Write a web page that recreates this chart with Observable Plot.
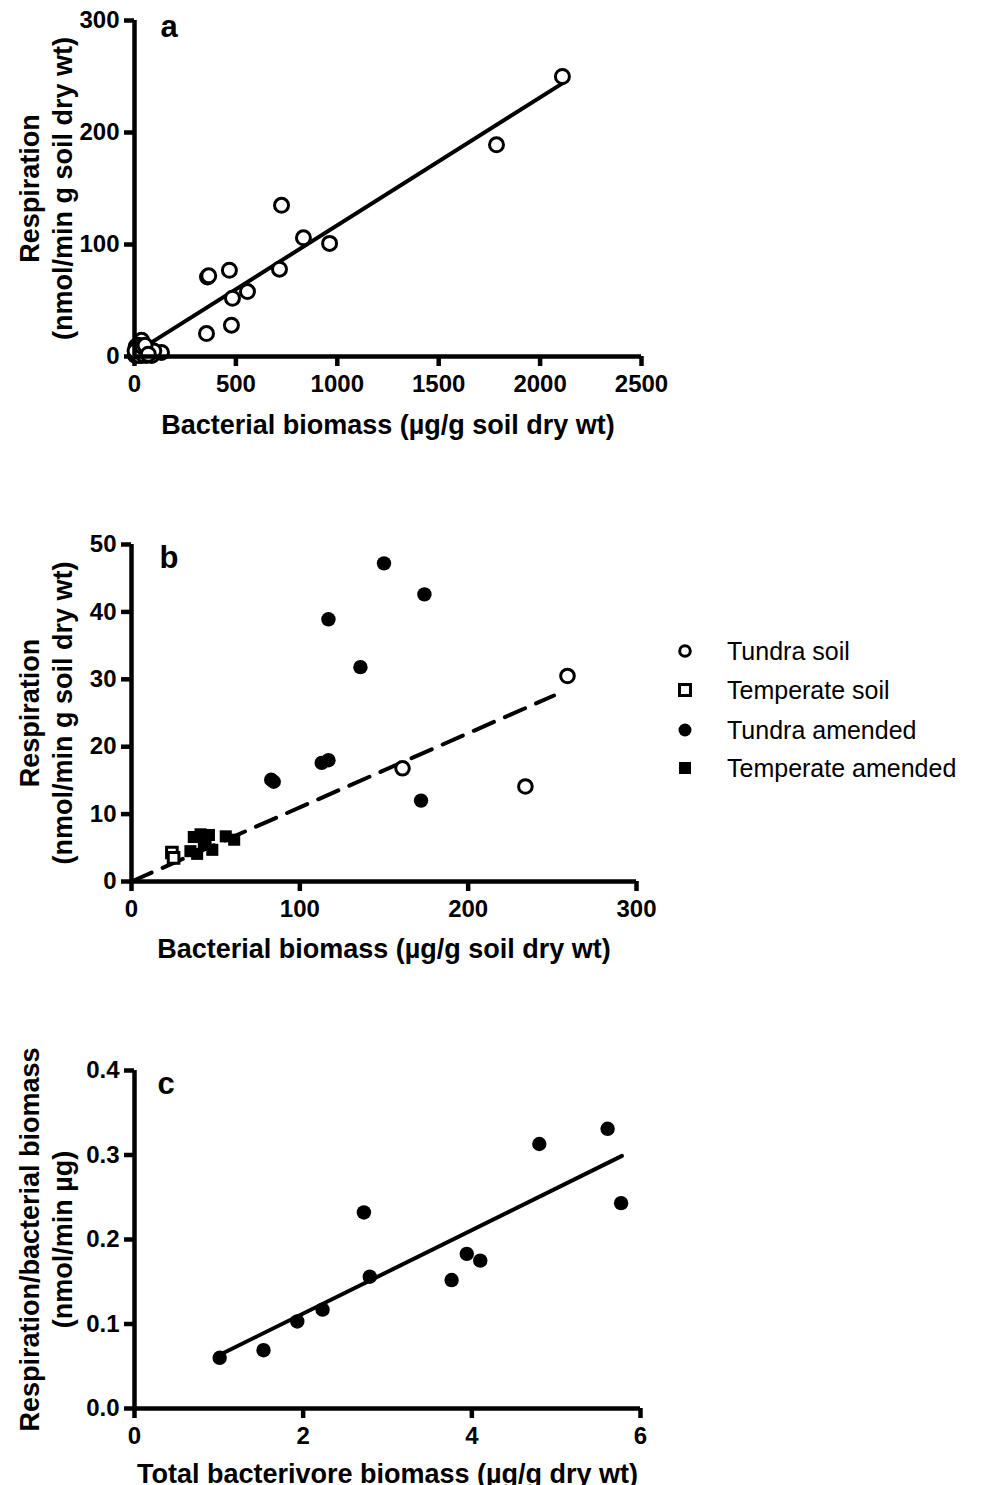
<!DOCTYPE html>
<html><head><meta charset="utf-8">
<script src="https://cdn.jsdelivr.net/npm/d3@7"></script>
<script src="https://cdn.jsdelivr.net/npm/@observablehq/plot@0.6"></script>
<style>
body{margin:0;background:#fff}
#page{position:relative;width:987px;height:1485px;overflow:hidden;background:#fff}
.panel{position:absolute;left:0}
</style></head><body>
<div id="page">
<div id="pa" class="panel" style="top:0"></div>
<div id="pb" class="panel" style="top:500px"></div>
<div id="pc" class="panel" style="top:1030px"></div>
<div id="legend" style="position:absolute;left:660px;top:620px"></div>
</div>
<script>
// ---------- Panel a data ----------
const aBiomass = [2110, 1785, 725, 833, 962, 715, 468, 360, 366, 557, 483, 478, 355, 35, 133,
                  5, 10, 15, 20, 25, 30, 35, 40, 45, 50, 55, 65, 75, 90, 12, 28, 58, 70,
                  8, 18, 22, 33, 42, 48, 62, 80, 85, 95, 3, 38, 52, 68];
const aResp    = [250, 189, 135, 106, 101, 78, 77, 71, 72, 58, 52, 28, 20.5, 14.5, 3.6,
                  1, 4, 2, 6, 3, 8, 1, 5, 9, 2, 6, 4, 2, 3, 7, 5, 1, 6,
                  9, 10, 1, 6, 2, 7, 8, 6, 1, 5, 5, 9, 10, 2];
const aFitX = [0, 2120];
const aFitY = [3, 245];
const aXTicks = [0, 500, 1000, 1500, 2000, 2500];
const aYTicks = [0, 100, 200, 300];

// ---------- Panel b data ----------
const seriesNames = ["Tundra soil", "Temperate soil", "Tundra amended", "Temperate amended"];
const tundraSoilX = [259, 161, 234];
const tundraSoilY = [30.5, 16.8, 14.1];
const temperateSoilX = [24, 25];
const temperateSoilY = [4.3, 3.5];
const tundraAmendedX = [150, 174, 117, 136, 83, 84.5, 113, 117, 172];
const tundraAmendedY = [47.2, 42.6, 38.9, 31.8, 15.1, 14.8, 17.6, 18.0, 12.0];
const temperateAmendedX = [37, 41, 46, 56, 61, 39, 43, 48, 35, 44];
const temperateAmendedY = [6.6, 7.0, 6.9, 6.7, 6.2, 4.1, 5.5, 4.7, 4.5, 6.2];
const bFitX = [0, 251];
const bFitY = [0, 27.6];
const bXTicks = [0, 100, 200, 300];
const bYTicks = [0, 10, 20, 30, 40, 50];

// ---------- Panel c data ----------
const cBiomass = [1.01, 1.53, 1.93, 2.23, 2.72, 2.79, 3.76, 3.94, 4.10, 4.80, 5.61, 5.77];
const cRatio   = [0.060, 0.069, 0.103, 0.117, 0.232, 0.156, 0.152, 0.183, 0.175, 0.313, 0.331, 0.243];
const cFitX = [1.0, 5.78];
const cFitY = [0.063, 0.299];
const cXTicks = [0, 2, 4, 6];
const cYTicks = [0, 0.1, 0.2, 0.3, 0.4];

// ---------- helpers ----------
const FONT = "'Liberation Sans', Arial, Helvetica, sans-serif";
const zip = (xs, ys) => xs.map((x, i) => ({x, y: ys[i]}));

function panel(o) {
  return Plot.plot({
    width: o.width, height: o.height,
    marginLeft: o.ml, marginRight: o.mr, marginTop: o.mt, marginBottom: o.mb,
    style: {fontFamily: FONT, fontSize: "24px", fontWeight: "bold", color: "black", background: "transparent", overflow: "visible"},
    x: {domain: o.xDomain},
    y: {domain: o.yDomain},
    marks: [
      Plot.axisX(o.xTicks, {tickSize: 10, tickPadding: 8, strokeWidth: 4.5, label: null, tickFormat: o.xFormat, fontSize: 24, fontWeight: "bold"}),
      Plot.axisY(o.yTicks, {tickSize: 10, tickPadding: 5, strokeWidth: 4.5, label: null, tickFormat: o.yFormat, fontSize: 24, fontWeight: "bold"}),
      ...o.marks,
      Plot.ruleY([o.yDomain[0]], {strokeWidth: 4.5, stroke: "black"}),
      Plot.ruleX([o.xDomain[0]], {strokeWidth: 4.5, stroke: "black"}),
      Plot.text([o.xLabel], {frameAnchor: "bottom", dy: o.xLabelDy, lineAnchor: "bottom", fontSize: 27, fontWeight: "bold", fill: "black"}),
      Plot.text([o.yLabel], {frameAnchor: "left", rotate: -90, dx: o.yLabelDx, lineAnchor: "top", textAnchor: "middle", lineHeight: 1.22, fontSize: 27, fontWeight: "bold", fill: "black"}),
      Plot.text([o.letter], {frameAnchor: "top-left", dx: o.letterDx, dy: o.letterDy, lineAnchor: "top", textAnchor: "start", fontSize: 31, fontWeight: "bold", fill: "black"})
    ]
  });
}

// ---------- Panel a ----------
document.getElementById("pa").append(panel({
  width: 700, height: 450, ml: 134, mr: 59, mt: 20, mb: 94,
  xDomain: [0, 2500], yDomain: [0, 300], xTicks: aXTicks, yTicks: aYTicks,
  xFormat: "d", yFormat: "d",
  xLabel: "Bacterial biomass (µg/g soil dry wt)", xLabelDy: 77,
  yLabel: "Respiration\n(nmol/min g soil dry wt)", yLabelDx: -119,
  letter: "a", letterDx: 26, letterDy: -6,
  marks: [
    Plot.line(zip(aFitX, aFitY), {x: "x", y: "y", stroke: "black", strokeWidth: 4}),
    Plot.dot(zip(aBiomass, aResp), {x: "x", y: "y", r: 7, stroke: "black", strokeWidth: 3, fill: "white"})
  ]
}));

// ---------- Panel b ----------
document.getElementById("pb").append(panel({
  width: 700, height: 470, ml: 131, mr: 64, mt: 44, mb: 89,
  xDomain: [0, 300], yDomain: [0, 50], xTicks: bXTicks, yTicks: bYTicks,
  xFormat: "d", yFormat: "d",
  xLabel: "Bacterial biomass (µg/g soil dry wt)", xLabelDy: 76,
  yLabel: "Respiration\n(nmol/min g soil dry wt)", yLabelDx: -116,
  letter: "b", letterDx: 28, letterDy: 1,
  marks: [
    Plot.line(zip(bFitX, bFitY), {x: "x", y: "y", stroke: "black", strokeWidth: 4, strokeDasharray: "22,12"}),
    Plot.dot(zip(temperateAmendedX, temperateAmendedY), {x: "x", y: "y", symbol: "square", r: 6.8, fill: "black"}),
    Plot.dot(zip(temperateSoilX, temperateSoilY), {x: "x", y: "y", symbol: "square", r: 6, stroke: "black", strokeWidth: 3, fill: "white"}),
    Plot.dot(zip(tundraAmendedX, tundraAmendedY), {x: "x", y: "y", r: 7.2, fill: "black"}),
    Plot.dot(zip(tundraSoilX, tundraSoilY), {x: "x", y: "y", r: 6.8, stroke: "black", strokeWidth: 3, fill: "white"})
  ]
}));

// ---------- Panel c ----------
document.getElementById("pc").append(panel({
  width: 700, height: 455, ml: 134, mr: 60, mt: 40, mb: 77,
  xDomain: [0, 6], yDomain: [0, 0.4], xTicks: cXTicks, yTicks: cYTicks,
  xFormat: "d", yFormat: ".1f",
  xLabel: "Total bacterivore biomass (µg/g dry wt)", xLabelDy: 74,
  yLabel: "Respiration/bacterial biomass\n(nmol/min µg)", yLabelDx: -119,
  letter: "c", letterDx: 23, letterDy: 1,
  marks: [
    Plot.line(zip(cFitX, cFitY), {x: "x", y: "y", stroke: "black", strokeWidth: 4}),
    Plot.dot(zip(cBiomass, cRatio), {x: "x", y: "y", r: 7.2, fill: "black"})
  ]
}));

// ---------- Legend ----------
(function () {
  const rowsY = [31, 70, 110, 148];
  const svg = d3.create("svg").attr("width", 327).attr("height", 175)
    .style("font-family", FONT).style("overflow", "visible");
  const mx = 25;
  svg.append("circle").attr("cx", mx).attr("cy", rowsY[0]).attr("r", 5.3)
    .attr("fill", "white").attr("stroke", "black").attr("stroke-width", 3);
  svg.append("rect").attr("x", mx - 5.5).attr("y", rowsY[1] - 5.5).attr("width", 11).attr("height", 11)
    .attr("fill", "white").attr("stroke", "black").attr("stroke-width", 3);
  svg.append("circle").attr("cx", mx).attr("cy", rowsY[2]).attr("r", 6.5).attr("fill", "black");
  svg.append("rect").attr("x", mx - 6).attr("y", rowsY[3] - 6).attr("width", 12).attr("height", 12).attr("fill", "black");
  seriesNames.forEach((name, i) => {
    svg.append("text").attr("x", 67).attr("y", rowsY[i] + 9).attr("font-size", 25)
      .attr("fill", "black").text(name);
  });
  document.getElementById("legend").append(svg.node());
})();
</script>
</body></html>
